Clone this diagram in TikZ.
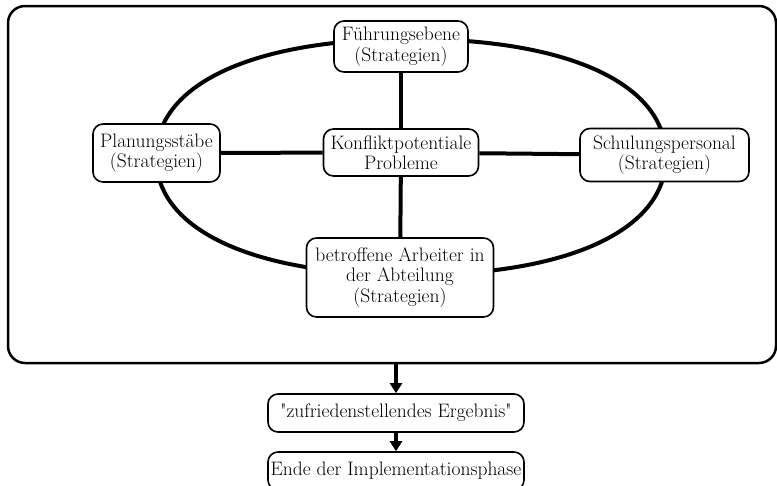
\documentclass[tikz,border=0pt]{standalone}
\usetikzlibrary{arrows.meta}
\tikzset{
  box/.style={draw, line width=1.6pt, rounded corners=10pt, fill=white,
    align=center, inner sep=2pt, font=\fontsize{19.5}{20.5}\selectfont},
  link/.style={line width=4pt},
  flow/.style={line width=3.5pt, -{Triangle[width=12pt,length=10pt]}}
}

\begin{document}
\begin{tikzpicture}[x=1pt,y=-1pt]
  \useasboundingbox (0,0) rectangle (777,485);
  % frame round the actors
  \draw[line width=2.5pt, rounded corners=17pt] (8,6) rectangle (776,363);
  % squarish ring behind the actors
  \coordinate (ringN) at (411,39);
  \coordinate (ringE) at (666,157);
  \coordinate (ringS) at (411,275);
  \coordinate (ringW) at (156,157);
  \draw[link] (ringN) .. controls (569,39) and (666,84) .. (ringE)
    .. controls (666,230) and (569,275) .. (ringS)
    .. controls (253,275) and (156,230) .. (ringW)
    .. controls (156,84) and (253,39) .. (ringN) -- cycle;
  \node[box, minimum width=134pt, minimum height=51pt] (lead) at (401,46.5)
    {Führungsebene\\(Strategien)};
  \node[box, minimum width=155pt, minimum height=47pt] (core) at (401,152.5)
    {Konfliktpotentiale\\Probleme};
  \node[box, minimum width=127pt, minimum height=58pt] (plan) at (156.5,153)
    {Planungsstäbe\\(Strategien)};
  \node[box, minimum width=169pt, minimum height=53pt] (train) at (664.5,155)
    {Schulungspersonal\\(Strategien)};
  \node[box, minimum width=187pt, minimum height=79pt] (staff) at (400,277.5)
    {betroffene Arbeiter in\\der Abteilung\\(Strategien)};
  \draw[link] (lead) -- (core);
  \draw[link] (core) -- (staff);
  \draw[link] (plan) -- (core);
  \draw[link] (core) -- (train);
  % outcome
  \coordinate (out) at (396,363);
  \node[box, minimum width=256pt, minimum height=38pt] (result) at (396,413)
    {\textquotedbl zufriedenstellendes Ergebnis\textquotedbl};
  \node[box, minimum width=256pt, minimum height=38pt] (finish) at (396,471)
    {Ende der Implementationsphase};
  \draw[flow] (out) -- (result);
  \draw[flow] (result) -- (finish);
\end{tikzpicture}
\end{document}
